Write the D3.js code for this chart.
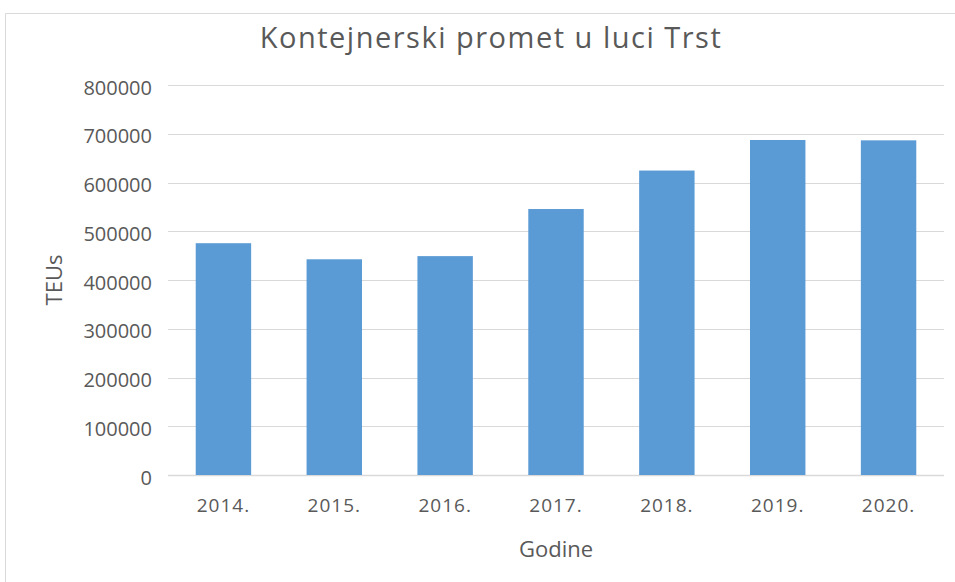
<!DOCTYPE html>
<html lang="hr">
<head>
    <meta charset="UTF-8">
    <title>Kontejnerski promet u luci Trst</title>
    <script src="https://d3js.org/d3.v7.min.js"></script>
    <style>
        body {margin: 0; background: #fff;}
        text {font-family: "Open Sans", sans-serif; fill: #595959;}
    </style>
</head>
<body>
<script>
    const years = ["2014.", "2015.", "2016.", "2017.", "2018.", "2019.", "2020."];
    const teus = [475500, 442500, 449000, 545600, 624500, 687200, 686500];
    const yTicks = [0, 100000, 200000, 300000, 400000, 500000, 600000, 700000, 800000];

    const width = 955;
    const height = 582;
    const margin = {top: 85, right: 11, bottom: 107, left: 168};

    const svg = d3.select("body").append("svg")
            .attr("width", width).attr("height", height);

    // chart area frame (top and left edges visible)
    svg.append("path")
            .attr("d", `M5.5,${height} V13.5 H${width}`)
            .style("fill", "none")
            .style("stroke", "#d9d9d9");

    const x = d3.scaleBand().domain(years)
            .range([margin.left, width - margin.right])
            .paddingInner(0.5).paddingOuter(0.25);
    const y = d3.scaleLinear().domain([0, 800000])
            .range([height - margin.bottom, margin.top]);

    svg.append("g").attr("class", "grid")
            .selectAll("line")
            .data(yTicks)
            .enter()
            .append("line")
            .attr("x1", margin.left).attr("x2", width - margin.right)
            .attr("y1", d => Math.round(y(d)) + 0.5).attr("y2", d => Math.round(y(d)) + 0.5)
            .style("stroke", "#d9d9d9")
            .style("stroke-width", d => d === 0 ? 1.5 : 1);

    svg.append("g").attr("class", "bars")
            .selectAll("rect")
            .data(teus)
            .enter()
            .append("rect")
            .attr("x", (d, i) => x(years[i]))
            .attr("width", x.bandwidth())
            .attr("y", d => y(d))
            .attr("height", d => y(0) - y(d))
            .style("fill", "#5b9bd5");

    const yAxis = svg.append("g")
            .attr("transform", `translate(${margin.left},0)`)
            .call(d3.axisLeft(y).tickValues(yTicks).tickFormat(d3.format("d")).tickSize(0).tickPadding(16));
    yAxis.select(".domain").remove();
    yAxis.selectAll("text")
            .attr("dy", "0.45em")
            .style("font-size", "20px").style("fill", "#595959");

    const xAxis = svg.append("g")
            .attr("transform", `translate(0,${height - margin.bottom})`)
            .call(d3.axisBottom(x).tickSize(0).tickPadding(24));
    xAxis.select(".domain").remove();
    xAxis.selectAll("text")
            .style("font-size", "19px").style("letter-spacing", "1px").style("fill", "#595959");

    svg.append("text")
            .attr("x", 491).attr("y", 48)
            .attr("text-anchor", "middle")
            .style("font-size", "29px")
            .style("letter-spacing", "1.5px")
            .text("Kontejnerski promet u luci Trst");

    svg.append("text")
            .attr("x", 556).attr("y", 557)
            .attr("text-anchor", "middle")
            .style("font-size", "22px")
            .text("Godine");

    svg.append("text")
            .attr("transform", "translate(62,280) rotate(-90)")
            .attr("text-anchor", "middle")
            .style("font-size", "22px")
            .text("TEUs");
</script>
</body>
</html>
